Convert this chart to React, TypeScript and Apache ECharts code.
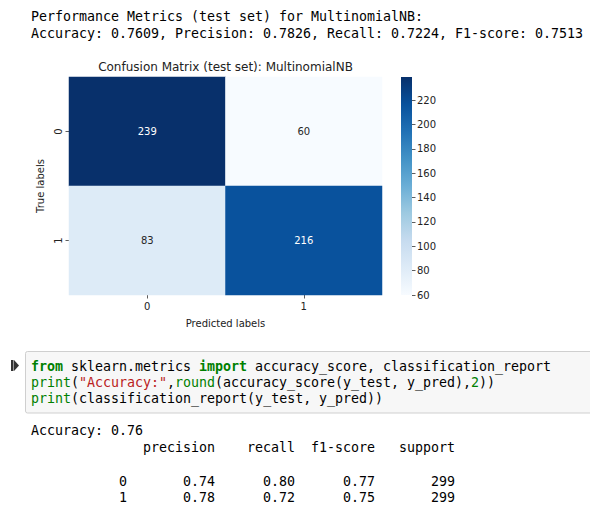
import React, { useEffect, useRef } from "react";
import * as echarts from "echarts";

// ---- data ----
const predictedLabels = ["0", "1"];
const trueLabels = ["0", "1"];
// rows = true label, cols = predicted label
const confusion = [
  [239, 60],
  [83, 216],
];
const colorbarTicks = [60, 80, 100, 120, 140, 160, 180, 200, 220];
const colorMin = 60;
const colorMax = 239;
const modelName = "MultinomialNB";
const metricNames = ["Accuracy", "Precision", "Recall", "F1-score"];
const metricValues = [0.7609, 0.7826, 0.7224, 0.7513];
const roundedAccuracy = 0.76;
const reportHeader = ["precision", "recall", "f1-score", "support"];
const reportClasses = ["0", "1"];
const reportPrecision = [0.74, 0.78];
const reportRecall = [0.8, 0.72];
const reportF1 = [0.77, 0.75];
const reportSupport = [299, 299];

const blues = [
  "#f7fbff",
  "#deebf7",
  "#c6dbef",
  "#9ecae1",
  "#6baed6",
  "#4292c6",
  "#2171b5",
  "#08519c",
  "#08306b",
];

const MONO = "'DejaVu Sans Mono', monospace";
const SANS = "'DejaVu Sans', sans-serif";
const CW = 8.0; // char advance
const FS = 13.3;

type Seg = [string, any?];

function monoLine(segs: Seg[], x0: number, y: number): any[] {
  const out: any[] = [];
  let idx = 0;
  for (const [txt, st] of segs) {
    const re = /\S+/g;
    let m: RegExpExecArray | null;
    while ((m = re.exec(txt))) {
      out.push({
        type: "text",
        x: x0 + (idx + m.index) * CW,
        y,
        silent: true,
        style: {
          text: m[0],
          fontFamily: MONO,
          fontSize: FS,
          fill: (st && st.fill) || "#000",
          fontWeight: (st && st.fontWeight) || "normal",
          verticalAlign: "middle",
          align: "left",
        },
      });
    }
    idx += txt.length;
  }
  return out;
}

function padL(s: string, n: number) {
  while (s.length < n) s = " " + s;
  return s;
}

export default function App() {
  const ref = useRef<HTMLDivElement>(null);
  useEffect(() => {
    if (!ref.current) return;
    const chart = echarts.init(ref.current, null, { renderer: "svg" });

    const heatData: any[] = [];
    confusion.forEach((row, r) =>
      row.forEach((v, c) => {
        heatData.push({
          value: [c, r, v],
          label: { color: v > (colorMin + colorMax) / 2 ? "#ffffff" : "#262626" },
        });
      })
    );

    const X0 = 31;
    const kw = { fill: "#008000", fontWeight: "bold" };
    const bi = { fill: "#008000" };
    const str = { fill: "#BA2121" };
    const num = { fill: "#008000" };

    const metricsLine = metricNames
      .map((n, i) => `${n}: ${metricValues[i].toFixed(4)}`)
      .join(", ");

    const header = padL("", 13) + reportHeader.map((h) => " " + padL(h, 9)).join("");
    const rows = reportClasses.map(
      (c, i) =>
        padL(c, 12) +
        " " +
        [reportPrecision[i], reportRecall[i], reportF1[i]]
          .map((v) => " " + padL(v.toFixed(2), 9))
          .join("") +
        " " +
        padL(String(reportSupport[i]), 9)
    );

    const texts: any[] = [
      ...monoLine([[`Performance Metrics (test set) for ${modelName}:`]], X0, 16),
      ...monoLine([[metricsLine]], X0, 33),
      {
        type: "text",
        x: 225.5,
        y: 67,
        silent: true,
        style: {
          text: `Confusion Matrix (test set): ${modelName}`,
          fontFamily: SANS,
          fontSize: 12,
          fill: "#222",
          align: "center",
          verticalAlign: "middle",
        },
      },
      // colorbar gradient
      {
        type: "rect",
        shape: { x: 401, y: 77, width: 11, height: 218 },
        silent: true,
        style: {
          fill: new echarts.graphic.LinearGradient(
            0,
            1,
            0,
            0,
            blues.map((c, i) => ({ offset: i / (blues.length - 1), color: c }))
          ),
        },
      },
      // code cell box
      {
        type: "rect",
        shape: { x: 25.5, y: 351.5, width: 580, height: 61.5, r: 2 },
        silent: true,
        style: { fill: "#f7f7f7", stroke: "#cfcfcf", lineWidth: 1 },
      },
      // run icon
      {
        type: "rect",
        shape: { x: 11, y: 360, width: 2.5, height: 11 },
        silent: true,
        style: { fill: "#333" },
      },
      {
        type: "polygon",
        shape: { points: [[14, 360], [19, 365.5], [14, 371]] },
        silent: true,
        style: { fill: "#333" },
      },
      ...monoLine(
        [
          ["from", kw],
          [" sklearn.metrics "],
          ["import", kw],
          [" accuracy_score, classification_report"],
        ],
        X0,
        366
      ),
      ...monoLine(
        [
          ["print", bi],
          ["("],
          ['"Accuracy:"', str],
          [","],
          ["round", bi],
          ["(accuracy_score(y_test, y_pred),"],
          ["2", num],
          ["))"],
        ],
        X0,
        382
      ),
      ...monoLine(
        [["print", bi], ["(classification_report(y_test, y_pred))"]],
        X0,
        398
      ),
      ...monoLine([[`Accuracy: ${roundedAccuracy.toFixed(2)}`]], X0, 430),
      ...monoLine([[header]], X0, 447),
      ...monoLine([[rows[0]]], X0, 481),
      ...monoLine([[rows[1]]], X0, 497),
    ];

    chart.setOption({
      animation: false,
      backgroundColor: "#ffffff",
      grid: [
        { left: 69, top: 77, width: 313, height: 218 },
        { left: 401, top: 77, width: 11, height: 218 },
      ],
      xAxis: [
        {
          type: "category",
          gridIndex: 0,
          data: predictedLabels,
          axisLine: { show: false },
          axisTick: { show: true, alignWithLabel: true, length: 3.5, lineStyle: { color: "#333", width: 0.8 } },
          axisLabel: { fontFamily: SANS, fontSize: 10, color: "#222", margin: 6 },
          splitLine: { show: false },
          name: "Predicted labels",
          nameLocation: "middle",
          nameGap: 23,
          nameTextStyle: { fontFamily: SANS, fontSize: 10, color: "#222" },
        },
        {
          type: "category",
          gridIndex: 1,
          data: [""],
          show: false,
        },
      ],
      yAxis: [
        {
          type: "category",
          gridIndex: 0,
          data: trueLabels,
          inverse: true,
          axisLine: { show: false },
          axisTick: { show: true, alignWithLabel: true, length: 3.5, lineStyle: { color: "#333", width: 0.8 } },
          axisLabel: { fontFamily: SANS, fontSize: 10, color: "#222", rotate: 90, margin: 6 },
          splitLine: { show: false },
          name: "True labels",
          nameLocation: "middle",
          nameRotate: 90,
          nameGap: 22,
          nameTextStyle: { fontFamily: SANS, fontSize: 10, color: "#222" },
        },
        {
          type: "value",
          gridIndex: 1,
          position: "right",
          min: colorMin,
          max: colorMax,
          interval: 20,
          axisLine: { show: false },
          axisTick: {
            show: true,
            length: 3.5,
            customValues: colorbarTicks,
            lineStyle: { color: "#333", width: 0.8 },
          },
          axisLabel: {
            fontFamily: SANS,
            fontSize: 10,
            color: "#222",
            margin: 5,
            customValues: colorbarTicks,
          },
          splitLine: { show: false },
        },
      ],
      visualMap: {
        show: false,
        type: "continuous",
        min: colorMin,
        max: colorMax,
        dimension: 2,
        seriesIndex: 0,
        inRange: { color: blues },
      },
      series: [
        {
          type: "heatmap",
          xAxisIndex: 0,
          yAxisIndex: 0,
          data: heatData,
          label: { show: true, fontFamily: SANS, fontSize: 10 },
          itemStyle: { borderWidth: 0 },
          emphasis: { disabled: true },
        },
        {
          type: "line",
          xAxisIndex: 1,
          yAxisIndex: 1,
          data: [],
        },
      ],
      graphic: texts,
    });
    return () => chart.dispose();
  }, []);
  return (
    <div
      ref={ref}
      style={{ position: "absolute", left: 0, top: 0, width: 590, height: 511, background: "#fff" }}
    />
  );
}
